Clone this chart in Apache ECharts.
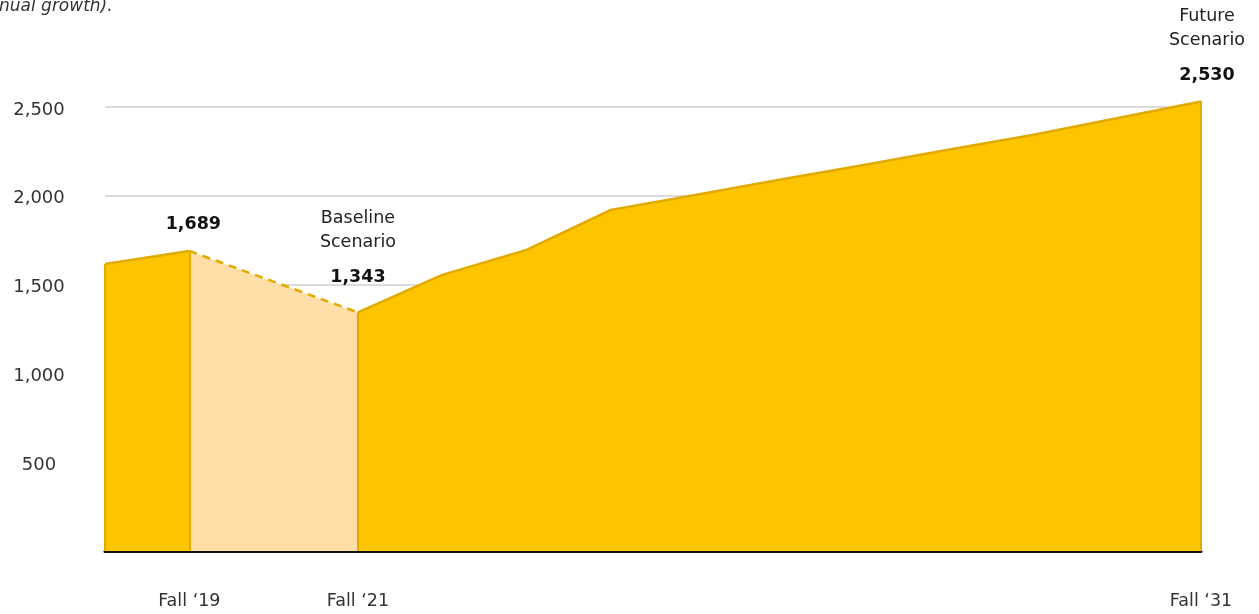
<!DOCTYPE html>
<html>
<head>
<meta charset="utf-8">
<script src="https://cdn.jsdelivr.net/npm/echarts@6/dist/echarts.min.js"></script>
<style>
html,body{margin:0;padding:0;background:#fff;}
#chart{width:1259px;height:614px;}
</style>
</head>
<body>
<div id="chart"></div>
<script>
// categories (one per fall term)
var years = ['Fall \u201818', 'Fall \u201819', 'Fall \u201820', 'Fall \u201821', 'Fall \u201822', 'Fall \u201823', 'Fall \u201824',
    'Fall \u201825', 'Fall \u201826', 'Fall \u201827', 'Fall \u201828', 'Fall \u201829', 'Fall \u201830', 'Fall \u201831'];
// solid area (gap during the covid dip)
var enrolled = [1616, 1689, '-', 1343, 1554, 1695, 1920, 2004, 2089, 2173, 2258, 2342, 2436, 2530];
// dip between fall 19 and fall 21
var dip = ['-', 1689, 1516, 1343, '-', '-', '-', '-', '-', '-', '-', '-', '-', '-'];
var shownLabels = [1, 3, 13];
var yTicks = [500, 1000, 1500, 2000, 2500];
// point labels
var calloutIdx = [1, 3, 13];
var calloutText = ['', 'Baseline\nScenario', 'Future\nScenario'];
var calloutValue = ['1,689', '1,343', '2,530'];
var calloutShift = [[4, 2], [0, -7], [6, 2]];
// vertical edges of the area
var edgeIdx = [0, 1, 3, 13];

var gold = '#FDC400';
var goldLine = '#E2A900';
var pale = '#FFDEA8';
var fontName = '"DejaVu Sans", sans-serif';

function fmt(v) {
    return String(v).replace(/\B(?=(\d{3})+(?!\d))/g, ',');
}

var mainData = enrolled.map(function (v, i) {
    var k = calloutIdx.indexOf(i);
    if (k < 0 || v === '-') return v;
    var txt = calloutText[k] ? '{n|' + calloutText[k].split('\n').join('}\n{n|') + '}\n{gap|}\n{b|' + calloutValue[k] + '}' : '{b|' + calloutValue[k] + '}';
    return {
        value: v,
        label: {
            show: true,
            position: 'top',
            distance: 16,
            offset: calloutShift[k],
            formatter: txt,
            rich: {
                n: {fontSize: 17.5, color: '#222', lineHeight: 24, fontFamily: fontName, align: 'center'},
                gap: {height: 11},
                b: {fontSize: 17.5, fontWeight: 'bold', color: '#111', lineHeight: 24, fontFamily: fontName, align: 'center'}
            }
        }
    };
});

var edges = edgeIdx.map(function (i) {
    var v = enrolled[i] === '-' ? dip[i] : enrolled[i];
    return [{coord: [years[i], 0]}, {coord: [years[i], v]}];
});

var chart = echarts.init(document.getElementById('chart'));
var option = {
    animation: false,
    title: {
        text: 'nual growth).',
        left: -6,
        top: -7,
        textStyle: {fontSize: 17, fontStyle: 'italic', fontWeight: 'normal', color: '#333', fontFamily: fontName}
    },
    grid: {left: 105, right: 58, top: 18, bottom: 63},
    xAxis: {
        type: 'category',
        data: years,
        boundaryGap: false,
        axisLine: {lineStyle: {color: '#111', width: 3}},
        axisTick: {show: false},
        axisLabel: {
            interval: function (i) { return shownLabels.indexOf(i) >= 0; },
            margin: 41,
            fontSize: 17.5,
            color: '#333',
            fontFamily: fontName
        }
    },
    yAxis: {
        type: 'value',
        min: 0,
        max: 3000,
        interval: 500,
        axisLine: {show: false},
        axisTick: {show: false},
        axisLabel: {
            margin: 66,
            align: 'center',
            verticalAlign: 'top',
            lineHeight: 6,
            fontSize: 18,
            color: '#333',
            fontFamily: fontName,
            formatter: function (v) { return yTicks.indexOf(v) >= 0 ? fmt(v) : ''; }
        },
        splitLine: {
            lineStyle: {color: ['transparent', '#cfcfcf', '#cfcfcf', '#cfcfcf', '#cfcfcf', '#cfcfcf', 'transparent'], width: 1.5}
        }
    },
    series: [{
        name: 'dip',
        type: 'line',
        data: dip,
        symbol: 'none',
        lineStyle: {color: goldLine, width: 2.5, type: [8, 6]},
        areaStyle: {color: pale, opacity: 1},
        z: 2
    }, {
        name: 'enrollment',
        type: 'line',
        data: mainData,
        symbol: 'circle',
        symbolSize: 0,
        showSymbol: true,
        connectNulls: false,
        lineStyle: {color: goldLine, width: 2.5},
        areaStyle: {color: gold, opacity: 1},
        z: 3,
        markLine: {
            symbol: 'none',
            silent: true,
            label: {show: false},
            lineStyle: {color: goldLine, width: 2, type: 'solid'},
            data: edges
        }
    }]
};
chart.setOption(option);
</script>
</body>
</html>
